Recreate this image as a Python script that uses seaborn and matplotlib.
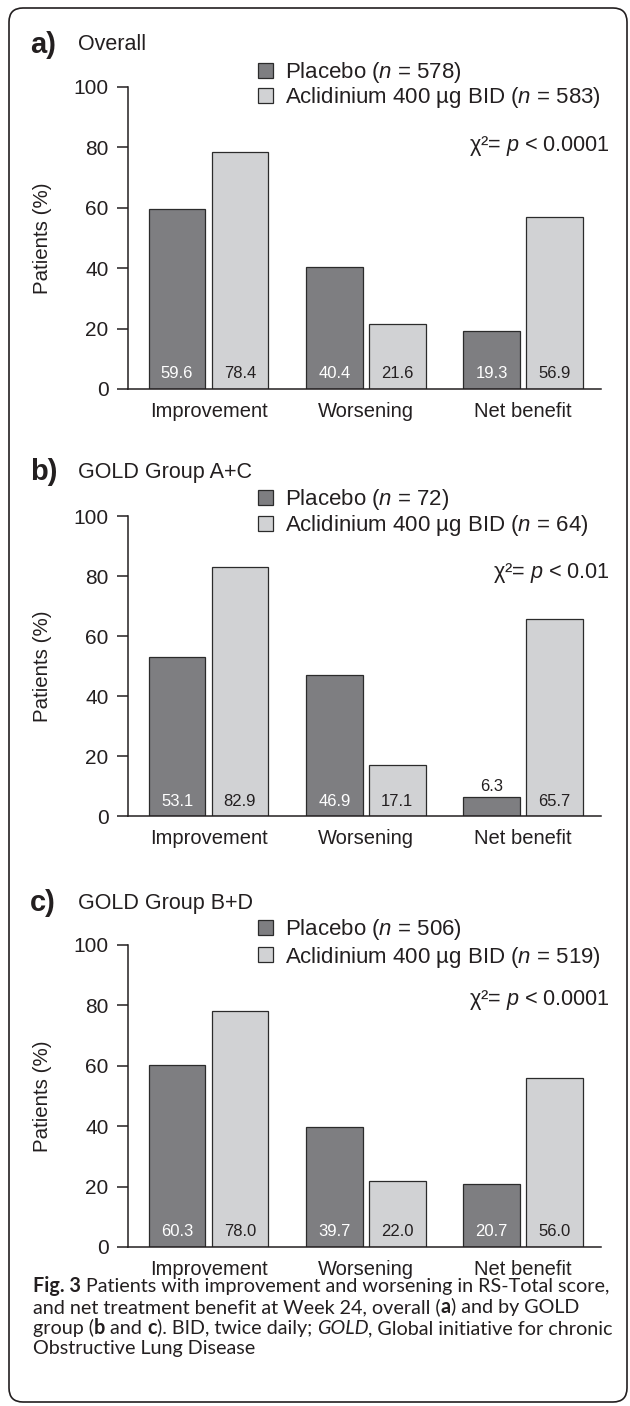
import matplotlib
matplotlib.use("Agg")
import matplotlib.pyplot as plt
from matplotlib.patches import FancyBboxPatch
from matplotlib.transforms import IdentityTransform
import seaborn as sns
import pandas as pd

# ---------------- data ----------------
outcomes = ["Improvement", "Worsening", "Net benefit"]
groups = ["Placebo", "Aclidinium 400 µg BID"]

overall_placebo = [59.6, 40.4, 19.3]
overall_aclidinium = [78.4, 21.6, 56.9]
ac_placebo = [53.1, 46.9, 6.3]
ac_aclidinium = [82.9, 17.1, 65.7]
bd_placebo = [60.3, 39.7, 20.7]
bd_aclidinium = [78.0, 22.0, 56.0]

panel_letters = ["a)", "b)", "c)"]
panel_titles = ["Overall", "GOLD Group A+C", "GOLD Group B+D"]
n_placebo = [578, 72, 506]
n_aclidinium = [583, 64, 519]
p_texts = ["< 0.0001", "< 0.01", "< 0.0001"]
yticks = [0, 20, 40, 60, 80, 100]

caption_lines = [
    [("Fig. 3", "bold", "normal"),
     (" Patients with improvement and worsening in RS-Total score,", "normal", "normal")],
    [("and net treatment benefit at Week 24, overall (", "normal", "normal"),
     ("a", "bold", "normal"), (") and by GOLD", "normal", "normal")],
    [("group (", "normal", "normal"), ("b", "bold", "normal"), (" and ", "normal", "normal"),
     ("c", "bold", "normal"), ("). BID, twice daily; ", "normal", "normal"),
     ("GOLD", "normal", "italic"), (", Global initiative for chronic", "normal", "normal")],
    [("Obstructive Lung Disease", "normal", "normal")],
]

panels = [
    (overall_placebo, overall_aclidinium),
    (ac_placebo, ac_aclidinium),
    (bd_placebo, bd_aclidinium),
]

# ---------------- style ----------------
sns.set_theme(style="white")
plt.rcParams["font.family"] = ["Liberation Sans", "DejaVu Sans"]
plt.rcParams["mathtext.fontset"] = "custom"
plt.rcParams["mathtext.rm"] = "Liberation Sans"
plt.rcParams["mathtext.it"] = "Liberation Sans:italic"
plt.rcParams["mathtext.bf"] = "Liberation Sans:bold"

INK = "#231f20"
C_PLA = "#7d7e82"
C_ACL = "#d1d2d4"
W, H = 630, 1406

fig = plt.figure(figsize=(W / 100, H / 100), dpi=100)
fig.patch.set_facecolor("white")


def fx(x):
    return x / W


def fy(y):
    return 1 - y / H


# axes geometry in pixels (top of 100, bottom of 0)
ax_px = [(87, 389), (516, 816), (945, 1247)]
title_y = [45, 472, 903]
legend_rows = [(73, 98), (500, 527), (930, 958)]
chi_y = [146, 573, 1000]
left_px, right_px = 128, 601

for i, ((pla, acl), (ytop, ybot)) in enumerate(zip(panels, ax_px)):
    ax = fig.add_axes([fx(left_px), fy(ybot), (right_px - left_px) / W, (ybot - ytop) / H])
    df = pd.DataFrame({
        "outcome": outcomes * 2,
        "group": [groups[0]] * 3 + [groups[1]] * 3,
        "pct": list(pla) + list(acl),
    })
    sns.barplot(data=df, x="outcome", y="pct", hue="group", order=outcomes,
                hue_order=groups, palette=[C_PLA, C_ACL], width=0.8, gap=0.1,
                edgecolor="#2b2b2b", linewidth=0.9, errorbar=None, ax=ax, legend=True)
    handles, _ = ax.get_legend_handles_labels()
    ax.get_legend().remove()

    ax.set_xlim(-0.512, 2.495)
    ax.set_ylim(0, 100)
    ax.set_yticks(yticks)
    ax.set_xlabel("")
    ax.set_ylabel("Patients (%)", fontsize=14.8, color=INK, va="center")
    ax.yaxis.set_label_coords(fx(42), fy((ytop + ybot) / 2), transform=fig.transFigure)
    for s in ["top", "right"]:
        ax.spines[s].set_visible(False)
    for s in ["left", "bottom"]:
        ax.spines[s].set_color(INK)
        ax.spines[s].set_linewidth(1.1)
    ax.tick_params(axis="y", which="major", left=True, length=8, width=1.1,
                   color=INK, pad=6, labelsize=15, labelcolor=INK, direction="out")
    ax.tick_params(axis="x", length=0, pad=9.4, labelsize=14.5, labelcolor=INK)
    ax.set_facecolor("none")

    # value labels
    for k, cont in enumerate(ax.containers):
        for p in cont.patches:
            v = p.get_height()
            xc = p.get_x() + p.get_width() / 2
            if v >= 10:
                ax.text(xc, 5.0, f"{v:.1f}", ha="center", va="center", fontsize=12,
                        color="white" if k == 0 else INK)
            else:
                ax.text(xc, v + 3.4, f"{v:.1f}", ha="center", va="center", fontsize=12,
                        color=INK)

    # titles
    fig.text(fx(30), fy(title_y[i]), panel_letters[i], fontsize=21, fontweight="bold",
             color=INK, ha="left", va="center")
    fig.text(fx(78), fy(title_y[i]), panel_titles[i], fontsize=15.5, color=INK,
             ha="left", va="center")

    # legend
    labels = [f"Placebo ($n$ = {n_placebo[i]})",
              f"Aclidinium 400 µg BID ($n$ = {n_aclidinium[i]})"]
    r1, r2 = legend_rows[i]
    fs = 16
    fs_px = fs * 100 / 72
    leg = ax.legend(handles, labels, loc="upper left",
                    bbox_to_anchor=(fx(258), fy(r1 - 13)), bbox_transform=fig.transFigure,
                    frameon=False, borderpad=0, borderaxespad=0,
                    handlelength=15 / fs_px, handleheight=15 / fs_px,
                    handletextpad=12 / fs_px,
                    labelspacing=max(r2 - r1 - 25.5, 0) / fs_px, prop={"size": fs})
    for t in leg.get_texts():
        t.set_color(INK)
    for h in leg.legend_handles:
        h.set_edgecolor("#2b2b2b")
        h.set_linewidth(0.9)

    # chi-square annotation
    fig.text(fx(610), fy(chi_y[i]), f"χ²= $p$ {p_texts[i]}", fontsize=15.6, color=INK,
             ha="right", va="center")

# ---------------- caption ----------------
renderer = fig.canvas.get_renderer()
cap_font = ["Lato", "DejaVu Sans"]


def piece_width(txt, weight, style, size):
    t = fig.text(0, 0, txt, fontsize=size, fontweight=weight, fontstyle=style,
                 family=cap_font)
    w = t.get_window_extent(renderer).width
    t.remove()
    return w


base = 12.0
w1 = sum(piece_width(t, wgt, sty, base) for t, wgt, sty in caption_lines[0])
cap_size = base * 574 / w1

cap_baselines = [1292, 1313, 1334, 1354]
for line, yb in zip(caption_lines, cap_baselines):
    x = 33
    for txt, wgt, sty in line:
        t = fig.text(fx(x), fy(yb), txt, fontsize=cap_size, fontweight=wgt, fontstyle=sty,
                     family=cap_font, color=INK, ha="left", va="baseline")
        x += t.get_window_extent(renderer).width

# ---------------- frame ----------------
frame = FancyBboxPatch((9, H - 1402), 618, 1394, boxstyle="round,pad=0,rounding_size=14",
                       transform=IdentityTransform(), facecolor="none", edgecolor=INK,
                       linewidth=1.2, figure=fig)
fig.patches.append(frame)

fig.savefig("out.png", dpi=100, facecolor="white")
